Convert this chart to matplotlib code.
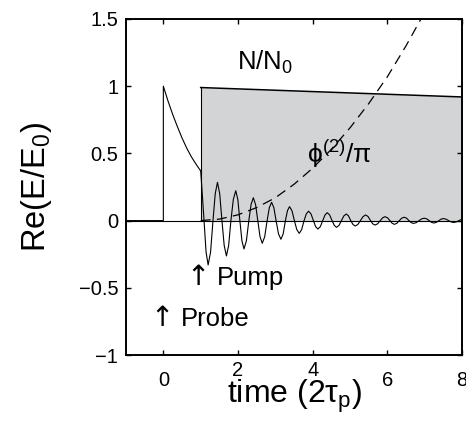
import matplotlib
matplotlib.use("Agg")
import matplotlib.pyplot as plt

plt.rcParams['font.family'] = ['Liberation Sans', 'DejaVu Sans']
plt.rcParams['mathtext.fontset'] = 'custom'
plt.rcParams['mathtext.rm'] = 'Liberation Sans'
plt.rcParams['mathtext.it'] = 'Liberation Sans'
plt.rcParams['mathtext.default'] = 'rm'

# --- data ---
# field Re(E/E0): probe decay, then pump-induced ringing
sig_t = [
    -1.0, 0.0, 0.0, 0.125, 0.25, 0.375, 0.5, 0.625, 0.75, 0.875, 1.0,
    1.045, 1.09,
    1.145, 1.20, 1.265, 1.33,
    1.39, 1.45, 1.51, 1.57,
    1.63, 1.69, 1.75, 1.81,
    1.875, 1.94, 1.995, 2.05,
    2.105, 2.16, 2.225, 2.29,
    2.35, 2.41, 2.47, 2.53,
    2.59, 2.65, 2.715, 2.78,
    2.84, 2.90, 2.96, 3.02,
    3.085, 3.15, 3.21, 3.27,
    3.325, 3.38, 3.445, 3.51,
    3.575, 3.64, 3.705, 3.77,
    3.83, 3.89, 3.955, 4.02,
    4.08, 4.14, 4.205, 4.27,
    4.33, 4.39, 4.455, 4.52,
    4.58, 4.64, 4.705, 4.77,
    4.835, 4.90, 4.96, 5.02,
    5.08, 5.14, 5.21, 5.28,
    5.35, 5.42, 5.485, 5.55,
    5.61, 5.67, 5.74, 5.81,
    5.875, 5.94, 6.005, 6.07,
    6.13, 6.19, 6.255, 6.32,
    6.385, 6.45, 6.515, 6.58,
    6.64, 6.70, 6.775, 6.85,
    6.92, 6.99, 7.055, 7.12,
    7.185, 7.25, 7.315, 7.38,
    7.44, 7.50, 7.57, 7.64,
    7.71, 7.78, 7.85, 7.92,
    7.96, 8.0,
]
sig_v = [
    0.0, 0.0, 1.0, 0.89, 0.79, 0.70, 0.615, 0.54, 0.475, 0.42, 0.37,
    0.19, 0.0,
    -0.235, -0.33, -0.235, 0.0,
    0.20, 0.285, 0.20, 0.0,
    -0.185, -0.263, -0.185, 0.0,
    0.158, 0.222, 0.158, 0.0,
    -0.15, -0.211, -0.15, 0.0,
    0.12, 0.17, 0.12, 0.0,
    -0.12, -0.169, -0.12, 0.0,
    0.097, 0.136, 0.097, 0.0,
    -0.099, -0.139, -0.099, 0.0,
    0.074, 0.104, 0.074, 0.0,
    -0.067, -0.095, -0.067, 0.0,
    0.05, 0.07, 0.05, 0.0,
    -0.045, -0.063, -0.045, 0.0,
    0.042, 0.059, 0.042, 0.0,
    -0.036, -0.05, -0.036, 0.0,
    0.035, 0.049, 0.035, 0.0,
    -0.029, -0.04, -0.029, 0.0,
    0.03, 0.042, 0.03, 0.0,
    -0.024, -0.033, -0.024, 0.0,
    0.021, 0.029, 0.021, 0.0,
    -0.02, -0.028, -0.02, 0.0,
    0.018, 0.025, 0.018, 0.0,
    -0.015, -0.021, -0.015, 0.0,
    0.013, 0.018, 0.013, 0.0,
    -0.013, -0.018, -0.013, 0.0,
    0.011, 0.015, 0.011, 0.0,
    -0.01, -0.014, -0.01, 0.0,
    0.006, 0.008,
]

# carrier density N/N0 after the pump
n_t = [1.0, 4.5, 8.0]
n_v = [0.99, 0.955, 0.92]

# phase phi^(2)/pi
phi_t = [1.0, 1.5, 2.0, 2.5, 3.0, 3.5, 4.0, 4.5, 5.0, 5.5, 6.0, 6.5, 7.0, 7.5, 8.0]
phi_v = [0.0, 0.011, 0.043, 0.097, 0.17, 0.27, 0.39, 0.53, 0.69, 0.87, 1.07, 1.30, 1.55, 1.81, 2.10]

xticks = [0, 2, 4, 6, 8]
xtick_labels = ['0', '2', '4', '6', '8']
xtick_raise = [0, 10, 10, 0, 0]   # 2 and 4 sit higher in the original
yticks = [-1, -0.5, 0, 0.5, 1, 1.5]
ytick_labels = ['\u22121', '\u22120.5', '0', '0.5', '1', '1.5']

fig = plt.figure(figsize=(4.66, 4.25), dpi=100)
ax = fig.add_axes([0.2704, 0.1647, 0.7210, 0.7906])

ax.fill_between(n_t, 0, n_v, color='#d3d4d6', lw=0, zorder=1)
ax.plot(n_t, n_v, color='k', lw=1.1, zorder=3)
ax.plot([n_t[0], n_t[0]], [0, n_v[0]], color='k', lw=0.8, zorder=3)
ax.axhline(0, color='k', lw=0.8, zorder=2)

ax.plot(sig_t, sig_v, color='k', lw=0.8, zorder=4)
ax.plot(phi_t, phi_v, color='k', lw=0.9, dashes=(8, 5), zorder=4)

ax.set_xlim(-1, 8)
ax.set_ylim(-1, 1.5)
ax.set_xticks(xticks)
ax.set_xticklabels([])
ax.set_yticks(yticks)
ax.set_yticklabels(ytick_labels, fontsize=14.5)
ax.tick_params(direction='in', top=True, right=True, length=3.5, width=1.0)
ax.tick_params(axis='y', pad=5.5)
for s in ax.spines.values():
    s.set_linewidth(1.4)

for v, lab, r in zip(xticks, xtick_labels, xtick_raise):
    ax.annotate(lab, xy=(v, 0), xycoords=ax.get_xaxis_transform(),
                xytext=(0, -11.5 + r * 0.72), textcoords='offset points',
                ha='center', va='top', fontsize=14.5, annotation_clip=False)

ax.set_xlabel(r'time (2$\tau_{\rm p}$)', fontsize=23, labelpad=13)
ax.set_ylabel(r'Re(E/E$_0$)', fontsize=23.5, labelpad=18)

ax.text(1.97, 1.12, r'N/N$_0$', fontsize=18.5, zorder=5)
ax.text(3.84, 0.43, r'$\phi^{(2)}/\pi$', fontsize=19, zorder=5)

# pump / probe markers
ax.text(0.93, -0.48, '\u2191', fontsize=20, family='DejaVu Sans', ha='center', zorder=5)
ax.text(1.44, -0.48, 'Pump', fontsize=18.5, zorder=5)
ax.text(-0.03, -0.785, '\u2191', fontsize=20, family='DejaVu Sans', ha='center', zorder=5)
ax.text(0.48, -0.785, 'Probe', fontsize=18.5, zorder=5)

fig.savefig('out.png', dpi=100)
